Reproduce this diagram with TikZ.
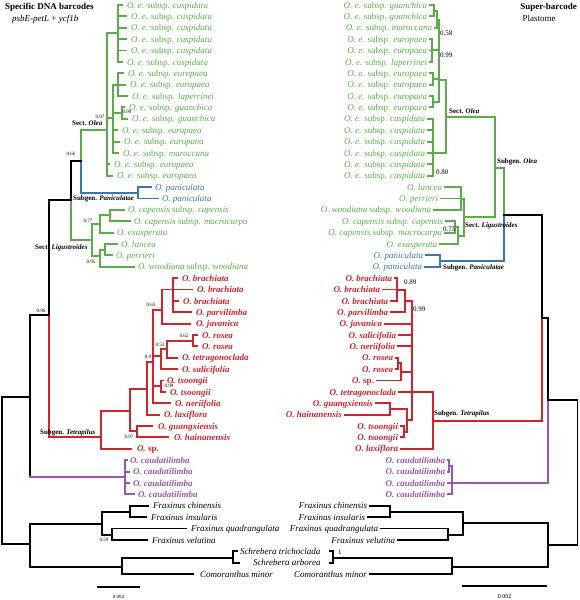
\documentclass[tikz,border=0pt]{standalone}
\usepackage{fontspec}
\setmainfont{Liberation Serif}
\definecolor{gC}{RGB}{92,172,76}
\definecolor{rC}{RGB}{208,36,44}
\definecolor{bC}{RGB}{58,118,176}
\definecolor{pC}{RGB}{152,88,172}
\newcommand{\V}[4]{\draw[tr,draw=#1] (#2,#3) -- (#2,#4);}
\newcommand{\HH}[4]{\draw[tr,draw=#1] (#3,#2) -- (#4,#2);}
\newcommand{\LLeaf}[7]{\draw[tr,draw=#2] (#4,#3) -- (#5,#3);
  \node[lab,text=#2,anchor=base west] (#1) at (#6,#3+3.1) {#7};}
\newcommand{\RLeaf}[7]{\draw[tr,draw=#2] (#4,#3) -- (#5,#3);
  \node[lab,text=#2,anchor=base east] (#1) at (#6,#3+3.1) {#7};}
\newcommand{\Oe}[1]{\textit{O. e.} subsp. \textit{#1}}
\newcommand{\rb}[1]{\textbf{\textit{#1}}}
\begin{document}
\begin{tikzpicture}[x=1pt,y=-1pt,
  tr/.style={line width=1.9pt,line cap=rect},
  lab/.style={inner sep=0pt,outer sep=0pt,font=\fontsize{9}{10}\selectfont},
  supL/.style={inner sep=0pt,font=\fontsize{5}{6}\selectfont},
  supR/.style={inner sep=0pt,anchor=west,font=\fontsize{7}{8}\selectfont},
  clade/.style={inner sep=0pt,anchor=west,font=\bfseries\fontsize{7}{8}\selectfont}]
\useasboundingbox (0,0) rectangle (579,600);

% headers
\node[inner sep=0pt,anchor=base west,font=\bfseries\fontsize{9}{10}\selectfont] (h1) at (5,9) {Specific DNA barcodes};
\node[inner sep=0pt,anchor=base west,font=\fontsize{9}{10}\selectfont] (h2) at (12,21) {\textit{psbE-petL} + \textit{ycf1b}};
\node[inner sep=0pt,anchor=base east,font=\bfseries\fontsize{9}{10}\selectfont] (h3) at (577,9) {Super-barcode};
\node[inner sep=0pt,anchor=base,font=\fontsize{9}{10}\selectfont] (h4) at (539,21) {Plastome};

% ================= LEFT TREE =================
\V{gC}{118}{5}{61.9} \HH{gC}{33}{107}{118}
\V{gC}{118}{73.3}{96} \HH{gC}{84.7}{113}{118}
\V{gC}{122}{107.4}{118.8} \HH{gC}{113}{113}{122}
\V{gC}{113}{84.7}{152.9} \HH{gC}{118}{107}{113}
\V{gC}{107}{33}{175.7} \HH{gC}{130}{81}{107}
\V{gC}{81}{130}{161} \V{bC}{81}{161}{193}
\HH{bC}{193}{81}{138} \V{bC}{138}{187.1}{198.5}
\HH{black}{161}{71}{81}
\V{gC}{110}{209.8}{221.2} \HH{gC}{215}{100}{110}
\V{gC}{100}{215}{232.6} \HH{gC}{224}{92}{100}
\V{gC}{105}{244}{255.4} \HH{gC}{250}{100}{105}
\V{gC}{100}{250}{266.7} \HH{gC}{256}{92}{100}
\V{gC}{92}{224}{256} \HH{gC}{240}{71}{92}
\V{black}{71}{161}{200} \V{gC}{71}{200}{240}
\HH{black}{200}{49}{71}
\V{black}{49}{200}{315} \V{rC}{49}{315}{437}
\HH{black}{315}{30}{49}
\HH{rC}{437}{49}{101}
\V{rC}{101}{411}{448.8}
\HH{rC}{411}{101}{130}
\V{rC}{130}{389}{431}
\V{rC}{137}{426.1}{437.4} \HH{rC}{431}{130}{137}
\HH{rC}{389}{130}{147}
\V{rC}{147}{362}{414.7}
\HH{rC}{362}{147}{153}
\V{rC}{153}{310}{403.3}
\HH{rC}{310}{153}{162}
\V{rC}{162}{289.5}{323.6}
\HH{rC}{289.5}{162}{173}
\V{rC}{173}{278.1}{312.3}
\V{rC}{193}{335}{346.4} \HH{rC}{341}{167}{193}
\V{rC}{167}{341}{357.8} \HH{rC}{349}{161}{167}
\V{rC}{161}{349}{369.2} \HH{rC}{356}{153}{161}
\V{rC}{161}{380.5}{391.9} \HH{rC}{386}{153}{161}
\V{black}{30}{315}{477} \HH{pC}{477}{30}{125}
\V{pC}{125}{460.2}{494.3}
\HH{black}{397}{2}{30}
\V{black}{2}{397}{544} \HH{black}{544}{2}{30}
\V{black}{30}{524}{567}
\V{black}{102}{512}{535} \HH{black}{524}{30}{102}
\V{black}{130}{505.7}{517.1} \HH{black}{512}{102}{130}
\V{black}{112}{528.5}{539.9} \HH{black}{535}{102}{112}
\V{black}{122}{558}{574} \HH{black}{567}{30}{122}
\V{black}{233}{551.2}{562.6} \HH{black}{558}{122}{233}

\LLeaf{l0}{gC}{5}{118}{122}{127}{\Oe{cuspidata}}
\LLeaf{l1}{gC}{16.4}{118}{126}{131}{\Oe{cuspidata}}
\LLeaf{l2}{gC}{27.8}{118}{126}{131}{\Oe{cuspidata}}
\LLeaf{l3}{gC}{39.1}{118}{126}{131}{\Oe{cuspidata}}
\LLeaf{l4}{gC}{50.5}{118}{126}{131}{\Oe{cuspidata}}
\LLeaf{l5}{gC}{61.9}{118}{122}{127}{\Oe{cuspidata}}
\LLeaf{l6}{gC}{73.3}{118}{123}{128}{\Oe{europaea}}
\LLeaf{l7}{gC}{84.7}{118}{125}{130}{\Oe{europaea}}
\LLeaf{l8}{gC}{96}{118}{127}{132}{\Oe{laperrinei}}
\LLeaf{l9}{gC}{107.4}{122}{124}{129}{\Oe{guanchica}}
\LLeaf{l10}{gC}{118.8}{122}{127}{132}{\Oe{guanchica}}
\LLeaf{l11}{gC}{130.2}{113}{117}{122}{\Oe{europaea}}
\LLeaf{l12}{gC}{141.6}{113}{119}{124}{\Oe{europaea}}
\LLeaf{l13}{gC}{152.9}{113}{118}{123}{\Oe{maroccana}}
\LLeaf{l14}{gC}{164.3}{107}{109}{114}{\Oe{europaea}}
\LLeaf{l15}{gC}{175.7}{107}{112}{117}{\Oe{europaea}}
\LLeaf{l16}{bC}{187.1}{138}{151}{155}{\textit{O. paniculata}}
\LLeaf{l17}{bC}{198.5}{138}{158}{162}{\textit{O. paniculata}}
\LLeaf{l18}{gC}{209.8}{110}{124}{128}{\textit{O. capensis} subsp. \textit{capensis}}
\LLeaf{l19}{gC}{221.2}{110}{130}{134}{\textit{O. capensis} subsp. \textit{macrocarpa}}
\LLeaf{l20}{gC}{232.6}{100}{113}{117}{\textit{O. exasperata}}
\LLeaf{l21}{gC}{244}{105}{117}{121}{\textit{O. lancea}}
\LLeaf{l22}{gC}{255.4}{105}{112}{116}{\textit{O. perrieri}}
\LLeaf{l23}{gC}{266.7}{100}{134}{138}{\textit{O. woodiana} subsp. \textit{woodiana}}
\LLeaf{l24}{rC}{278.1}{173}{177}{182}{\rb{O. brachiata}}
\LLeaf{l25}{rC}{289.5}{173}{192}{197}{\rb{O. brachiata}}
\LLeaf{l26}{rC}{300.9}{173}{178}{183}{\rb{O. brachiata}}
\LLeaf{l27}{rC}{312.3}{173}{191}{196}{\rb{O. parvilimba}}
\LLeaf{l28}{rC}{323.6}{162}{190}{196}{\rb{O. javanica}}
\LLeaf{l29}{rC}{335}{193}{197}{202}{\rb{O. rosea}}
\LLeaf{l30}{rC}{346.4}{193}{197}{202}{\rb{O. rosea}}
\LLeaf{l31}{rC}{357.8}{167}{177}{182}{\rb{O. tetragonoclada}}
\LLeaf{l32}{rC}{369.2}{161}{177}{182}{\rb{O. salicifolia}}
\LLeaf{l33}{rC}{380.5}{161}{163}{167}{\rb{O. tsoongii}}
\LLeaf{l34}{rC}{391.9}{161}{165}{170}{\rb{O. tsoongii}}
\LLeaf{l35}{rC}{403.3}{153}{170}{175}{\rb{O. neriifolia}}
\LLeaf{l36}{rC}{414.7}{147}{159}{164}{\rb{O. laxiflora}}
\LLeaf{l37}{rC}{426.1}{137}{152}{158}{\rb{O. guangxiensis}}
\LLeaf{l38}{rC}{437.4}{137}{168}{174}{\rb{O. hainanensis}}
\LLeaf{l39}{rC}{448.8}{101}{131}{137}{\textbf{\textit{O.} sp.}}
\LLeaf{l40}{pC}{460.2}{125}{127}{130}{\rb{O. caudatilimba}}
\LLeaf{l41}{pC}{471.6}{125}{129}{133}{\rb{O. caudatilimba}}
\LLeaf{l42}{pC}{483}{125}{129}{133}{\rb{O. caudatilimba}}
\LLeaf{l43}{pC}{494.3}{125}{134}{138}{\rb{O. caudatilimba}}
\LLeaf{l44}{black}{505.7}{130}{148}{153}{\textit{Fraxinus chinensis}}
\LLeaf{l45}{black}{517.1}{130}{146}{151}{\textit{Fraxinus insularis}}
\LLeaf{l46}{black}{528.5}{112}{186}{191}{\textit{Fraxinus quadrangulata}}
\LLeaf{l47}{black}{539.9}{112}{147}{152}{\textit{Fraxinus velutina}}
\LLeaf{l48}{black}{551.2}{233}{237}{240}{\textit{Schrebera trichoclada}}
\LLeaf{l49}{black}{562.6}{233}{239}{253}{\textit{Schrebera arborea}}
\LLeaf{l50}{black}{574}{122}{193}{200}{\textit{Comoranthus minor}}

% left support values
\node[supL] (s1) at (100,117) {0.97};
\node[supL] (s2) at (127,112) {0.99};
\node[supL] (s3) at (71,154) {0.66};
\node[supL] (s4) at (88,221) {0.77};
\node[supL] (s5) at (91,262) {0.95};
\node[supL] (s6) at (41,311) {0.96};
\node[supL] (s7) at (151,305) {0.65};
\node[supL] (s8) at (184,336) {0.62};
\node[supL] (s9) at (160,345) {0.53};
\node[supL] (s10) at (148,357) {0.9};
\node[supL] (s11) at (169,386) {0.99};
\node[supL] (s12) at (129,437) {0.97};
\node[supL] (s13) at (104,540) {0.59};

% left clade labels
\node[clade] (c1) at (72,123) {Sect. \textit{Olea}};
\node[clade] (c2) at (73,199) {Subgen. \textit{Paniculatae}};
\node[clade] (c3) at (35,248) {Sect. \textit{Ligustroides}};
\node[clade] (c4) at (40,433) {Subgen. \textit{Tetrapilus}};

% left scale
\draw[line width=1.2pt] (97,587) coordinate (sa1) -- (140,587) coordinate (sa2);
\node[supL] (sl) at (118.5,597) {0.004};

% ================= RIGHT TREE =================
\V{gC}{434}{5}{16.4} \HH{gC}{11}{434}{437}
\V{gC}{437}{11}{27.8} \HH{gC}{20}{437}{439}
\V{gC}{432}{39.1}{61.9} \HH{gC}{50}{432}{439}
\V{gC}{433}{73.3}{84.7} \HH{gC}{79}{433}{439}
\V{gC}{433}{96}{107.4} \HH{gC}{102}{433}{439}
\V{gC}{439}{20}{102} \HH{gC}{80}{439}{446}
\V{gC}{433}{118.8}{175.7} \HH{gC}{153}{433}{446}
\V{gC}{446}{80}{153} \HH{gC}{117}{446}{495}
\V{gC}{461}{187.1}{209.8} \HH{gC}{199}{461}{464}
\V{gC}{455}{221.2}{232.6} \HH{gC}{227}{455}{458}
\V{gC}{458}{227}{244} \HH{gC}{236}{458}{464}
\V{gC}{464}{199}{236} \HH{gC}{217}{464}{495}
\V{gC}{495}{117}{217} \HH{gC}{168}{495}{504}
\V{gC}{504}{168}{215} \V{bC}{504}{215}{261}
\V{bC}{440}{255.4}{266.7} \HH{bC}{261}{440}{504}
\HH{black}{215}{504}{542}
\V{black}{542}{215}{318} \V{rC}{542}{318}{421}
\V{rC}{397}{278.1}{300.9} \HH{rC}{290}{397}{405}
\V{rC}{405}{290}{312.3} \HH{rC}{301}{405}{412}
\V{rC}{398}{357.8}{369.2} \HH{rC}{363}{398}{401}
\V{rC}{401}{363}{380.5} \HH{rC}{372}{401}{412}
\V{rC}{390}{403.3}{414.7} \HH{rC}{409}{390}{407}
\V{rC}{404}{426.1}{437.4} \HH{rC}{432}{404}{407}
\V{rC}{407}{409}{432} \HH{rC}{420}{407}{412}
\V{rC}{412}{301}{420} \HH{rC}{391.9}{412}{433}
\V{rC}{433}{391.9}{448.8} \HH{rC}{421}{433}{542}
\HH{black}{318}{542}{548}
\V{pC}{449}{460.2}{471.6} \HH{pC}{466}{449}{452}
\V{pC}{452}{466}{494.3} \HH{pC}{483}{452}{548}
\V{black}{548}{318}{400} \V{pC}{548}{400}{483}
\HH{black}{400}{548}{577.5}
\V{black}{577.5}{400}{545} \HH{black}{545}{548}{577.5}
\V{black}{548}{523}{567}
\V{black}{463}{512}{535} \HH{black}{523}{463}{548}
\V{black}{390}{505.7}{517.1} \HH{black}{512}{390}{463}
\V{black}{448}{528.5}{539.9} \HH{black}{535}{448}{463}
\V{black}{452}{558}{574} \HH{black}{567}{452}{548}
\V{black}{333}{551.2}{562.6} \HH{black}{558}{333}{452}
\draw[tr] (330,551.2) -- (333,551.2);
\draw[tr] (330,562.6) -- (333,562.6);

\RLeaf{r0}{gC}{5}{430}{434}{427}{\Oe{guanchica}}
\RLeaf{r1}{gC}{16.4}{430}{434}{427}{\Oe{guanchica}}
\RLeaf{r2}{gC}{27.8}{435}{437}{432}{\Oe{maroccana}}
\RLeaf{r3}{gC}{39.1}{430}{432}{427}{\Oe{europaea}}
\RLeaf{r4}{gC}{50.5}{430}{432}{427}{\Oe{europaea}}
\RLeaf{r5}{gC}{61.9}{430}{432}{427}{\Oe{laperrinei}}
\RLeaf{r6}{gC}{73.3}{430}{433}{427}{\Oe{europaea}}
\RLeaf{r7}{gC}{84.7}{430}{433}{427}{\Oe{europaea}}
\RLeaf{r8}{gC}{96}{430}{433}{427}{\Oe{europaea}}
\RLeaf{r9}{gC}{107.4}{430}{433}{427}{\Oe{europaea}}
\RLeaf{r10}{gC}{118.8}{428}{433}{425}{\Oe{cuspidata}}
\RLeaf{r11}{gC}{130.2}{428}{433}{425}{\Oe{cuspidata}}
\RLeaf{r12}{gC}{141.6}{428}{433}{425}{\Oe{cuspidata}}
\RLeaf{r13}{gC}{152.9}{428}{433}{425}{\Oe{cuspidata}}
\RLeaf{r14}{gC}{164.3}{428}{433}{425}{\Oe{cuspidata}}
\RLeaf{r15}{gC}{175.7}{428}{433}{425}{\Oe{cuspidata}}
\RLeaf{r16}{gC}{187.1}{445}{461}{442}{\textit{O. lancea}}
\RLeaf{r17}{gC}{198.5}{441}{461}{438}{\textit{O. perrieri}}
\RLeaf{r18}{gC}{209.8}{434}{461}{431}{\textit{O. woodiana} subsp. \textit{woodiana}}
\RLeaf{r19}{gC}{221.2}{446}{455}{443}{\textit{O. capensis} subsp. \textit{capensis}}
\RLeaf{r20}{gC}{232.6}{445}{455}{442}{\textit{O. capensis} subsp. \textit{macrocarpa}}
\RLeaf{r21}{gC}{244}{440}{458}{437}{\textit{O. exasperata}}
\RLeaf{r22}{bC}{255.4}{426}{440}{423}{\textit{O. paniculata}}
\RLeaf{r23}{bC}{266.7}{425}{440}{422}{\textit{O. paniculata}}
\RLeaf{r24}{rC}{278.1}{395}{397}{392}{\rb{O. brachiata}}
\RLeaf{r25}{rC}{289.5}{383}{397}{380}{\rb{O. brachiata}}
\RLeaf{r26}{rC}{300.9}{391}{397}{388}{\rb{O. brachiata}}
\RLeaf{r27}{rC}{312.3}{391}{405}{388}{\rb{O. parvilimba}}
\RLeaf{r28}{rC}{323.6}{385}{412}{382}{\rb{O. javanica}}
\RLeaf{r29}{rC}{335}{399}{412}{396}{\rb{O. salicifolia}}
\RLeaf{r30}{rC}{346.4}{398}{412}{395}{\rb{O. neriifolia}}
\RLeaf{r31}{rC}{357.8}{396}{398}{393}{\rb{O. rosea}}
\RLeaf{r32}{rC}{369.2}{396}{398}{393}{\rb{O. rosea}}
\RLeaf{r33}{rC}{380.5}{377}{401}{374}{\textbf{\textit{O.} sp.}}
\RLeaf{r34}{rC}{391.9}{399}{412}{396}{\rb{O. tetragonoclada}}
\RLeaf{r35}{rC}{403.3}{376}{390}{373}{\rb{O. guangxiensis}}
\RLeaf{r36}{rC}{414.7}{345}{390}{342}{\rb{O. hainanensis}}
\RLeaf{r37}{rC}{426.1}{401}{404}{398}{\rb{O. tsoongii}}
\RLeaf{r38}{rC}{437.4}{401}{404}{398}{\rb{O. tsoongii}}
\RLeaf{r39}{rC}{448.8}{401}{433}{398}{\rb{O. laxiflora}}
\RLeaf{r40}{pC}{460.2}{448}{449}{445}{\rb{O. caudatilimba}}
\RLeaf{r41}{pC}{471.6}{448}{449}{445}{\rb{O. caudatilimba}}
\RLeaf{r42}{pC}{483}{448}{452}{445}{\rb{O. caudatilimba}}
\RLeaf{r43}{pC}{494.3}{448}{452}{445}{\rb{O. caudatilimba}}
\RLeaf{r44}{black}{505.7}{370}{390}{367}{\textit{Fraxinus chinensis}}
\RLeaf{r45}{black}{517.1}{368}{390}{365}{\textit{Fraxinus insularis}}
\RLeaf{r46}{black}{528.5}{381}{448}{378}{\textit{Fraxinus quadrangulata}}
\RLeaf{r47}{black}{539.9}{398}{448}{395}{\textit{Fraxinus velutina}}
\RLeaf{r50}{black}{574}{370}{452}{367}{\textit{Comoranthus minor}}

% right support values
\node[supR] (t1) at (440,33) {0.58};
\node[supR] (t2) at (440,55) {0.99};
\node[supR] (t3) at (436,172) {0.80};
\node[supR] (t4) at (443,229) {0.75};
\node[supR] (t5) at (404,282) {0.89};
\node[supR] (t6) at (413,309) {0.99};
\node[supR] (t7) at (338,552) {1};

% right clade labels
\node[clade] (d1) at (449,111) {Sect. \textit{Olea}};
\node[clade] (d2) at (497,162) {Subgen. \textit{Olea}};
\node[clade] (d3) at (465,226) {Sect. \textit{Ligustroides}};
\node[clade] (d4) at (443,268) {Subgen. \textit{Paniculatae}};
\node[clade] (d5) at (434,414) {Subgen. \textit{Tetrapilus}};

% right scale
\draw[line width=1.2pt] (462,586) coordinate (sb1) -- (547,586) coordinate (sb2);
\node[inner sep=0pt,font=\fontsize{6}{7}\selectfont] (sr) at (504.5,597) {0.002};
\end{tikzpicture}
\end{document}
